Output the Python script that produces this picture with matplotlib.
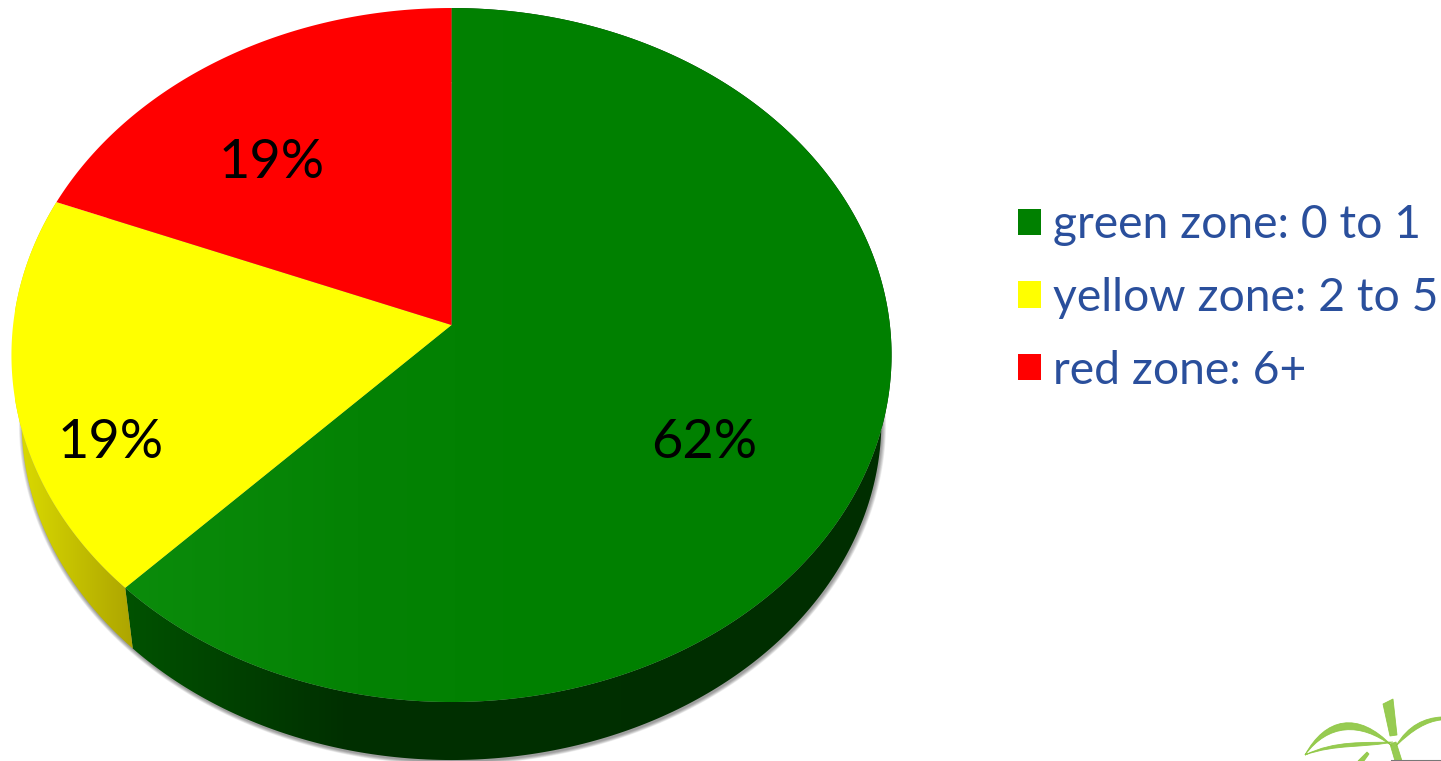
"""3D pie of the zone shares, with legend and the corner of the logo."""

import matplotlib

matplotlib.use("Agg")
import matplotlib.pyplot as plt
import numpy as np
from matplotlib.colors import LinearSegmentedColormap
from matplotlib.patches import Patch, PathPatch, Polygon
from matplotlib.path import Path

zones = ["green zone: 0 to 1", "yellow zone: 2 to 5", "red zone: 6+"]
shares = [62.3, 18.7, 19.0]
colors = ["#008000", "#ffff00", "#ff0000"]
label_pos = [(704, 442), (111, 442), (272, 162)]

# projection of the unit disc onto the picture (pixels)
APEX_X, APEX_Y = 451.5, 325.0
SCALE_X, SCALE_Y, PERSP = 438.4, 344.4, 0.0865
ELL_Y = 355.0
BASE_SCALE, BASE_DROP = 0.977, 66.0


def top_points(theta, r=1.0):
    u, v = r * np.sin(theta), r * np.cos(theta)
    den = 1 + PERSP * v
    return APEX_X + SCALE_X * u / den, APEX_Y - SCALE_Y * v / den


def base_points(theta, grow=0.0):
    x, y = top_points(theta)
    return (APEX_X + (BASE_SCALE + grow) * (x - APEX_X),
            ELL_Y + BASE_DROP + (BASE_SCALE + grow) * (y - ELL_Y))


def gradient(ax, patch, stops, x0, x1):
    cmap = LinearSegmentedColormap.from_list("g", stops)
    img = ax.imshow(np.linspace(0, 1, 256)[None, :], cmap=cmap, aspect="auto",
                    extent=(x0, x1, 761, 0), zorder=patch.get_zorder())
    ax.add_patch(patch)
    patch.set_visible(False)
    img.set_clip_path(patch)


fig = plt.figure(figsize=(14.41, 7.61), dpi=100)
ax = fig.add_axes([0, 0, 1, 1])

edges = 2 * np.pi * np.cumsum([0] + shares) / 100.0
full = np.linspace(0, 2 * np.pi, 500)

# soft shadow under the disc
for i in range(8):
    bx, by = base_points(full, grow=0.0012 * i)
    ax.fill(bx + 1, by + 2, color="#000000", alpha=0.055, lw=0, zorder=1)

# side walls
for start, end, stops, x0, x1 in [
    (edges[0], edges[1], [(0, "#005200"), (0.28, "#003000"), (1, "#002e00")], 125, 900),
    (edges[1], edges[2], [(0, "#dcdc00"), (1, "#aca400")], 15, 135),
]:
    th = np.linspace(start, end, 300)
    xt, yt = top_points(th)
    xb, yb = base_points(th)
    pts = np.r_[np.c_[xt, yt], np.c_[xb, yb][::-1]]
    gradient(ax, Polygon(pts, closed=True, zorder=2), stops, x0, x1)

# top face
for i, (start, end, col) in enumerate(zip(edges[:-1], edges[1:], colors)):
    th = np.linspace(start, end, 300)
    xt, yt = top_points(th)
    pts = np.r_[[[APEX_X, APEX_Y]], np.c_[xt, yt]]
    if i == 0:
        gradient(ax, Polygon(pts, closed=True, zorder=3),
                 [(0, "#0b8c0b"), (0.3, "#048204"), (0.55, "#008000"), (1, "#008000")], 125, 900)
    else:
        ax.add_patch(Polygon(pts, closed=True, fc=col, ec="none", zorder=3))

for share, pos in zip(shares, label_pos):
    ax.text(pos[0], pos[1], f"{share:.0f}%", ha="center", va="center", fontsize=39,
            family="Lato", color="black", zorder=5)

handles = [Patch(fc=c, ec="none") for c in colors]
ax.legend(handles, zones, loc="upper left", bbox_to_anchor=(999 / 1441, 1 - 186 / 761),
          frameon=False, prop={"family": "Lato", "size": 33.3},
          labelcolor="#2a4f9c", handlelength=0.5, handleheight=0.5,
          handletextpad=0.26, labelspacing=0.66, borderaxespad=0.0)

# corner of the logo
leaf = "#8cc63f"
logo = [
    ([(1305, 755), (1325, 718), (1358, 710), (1392, 746),
      (1360, 722), (1328, 724), (1305, 755)],
     [Path.MOVETO, Path.CURVE4, Path.CURVE4, Path.CURVE4,
      Path.CURVE4, Path.CURVE4, Path.CURVE4]),
    ([(1305, 755), (1335, 744), (1365, 748), (1393, 742),
      (1365, 743), (1335, 740), (1305, 755)],
     [Path.MOVETO, Path.CURVE4, Path.CURVE4, Path.CURVE4,
      Path.CURVE4, Path.CURVE4, Path.CURVE4]),
    ([(1383, 704), (1393, 699), (1397, 735), (1390, 736), (1383, 704)],
     [Path.MOVETO, Path.LINETO, Path.LINETO, Path.LINETO, Path.CLOSEPOLY]),
    ([(1396, 746), (1408, 725), (1425, 718), (1441, 717),
      (1441, 720), (1420, 722), (1396, 746)],
     [Path.MOVETO, Path.CURVE4, Path.CURVE4, Path.CURVE4,
      Path.LINETO, Path.CURVE3, Path.CURVE3]),
    ([(1390, 744), (1396, 742), (1402, 761), (1395, 761), (1390, 744)],
     [Path.MOVETO, Path.LINETO, Path.LINETO, Path.LINETO, Path.CLOSEPOLY]),
    ([(1358, 761), (1367, 752), (1369, 754), (1364, 761), (1358, 761)],
     [Path.MOVETO, Path.LINETO, Path.LINETO, Path.LINETO, Path.CLOSEPOLY]),
]
for verts, codes in logo:
    ax.add_patch(PathPatch(Path(verts, codes), fc=leaf, ec=leaf, lw=0.6, alpha=0.9, zorder=4))
ax.plot([1392, 1441], [760.5, 760.5], color="#777777", lw=1.5, zorder=5)

ax.set_xlim(0, 1441)
ax.set_ylim(761, 0)
ax.axis("off")
fig.savefig("out.png", dpi=100, facecolor="white")
